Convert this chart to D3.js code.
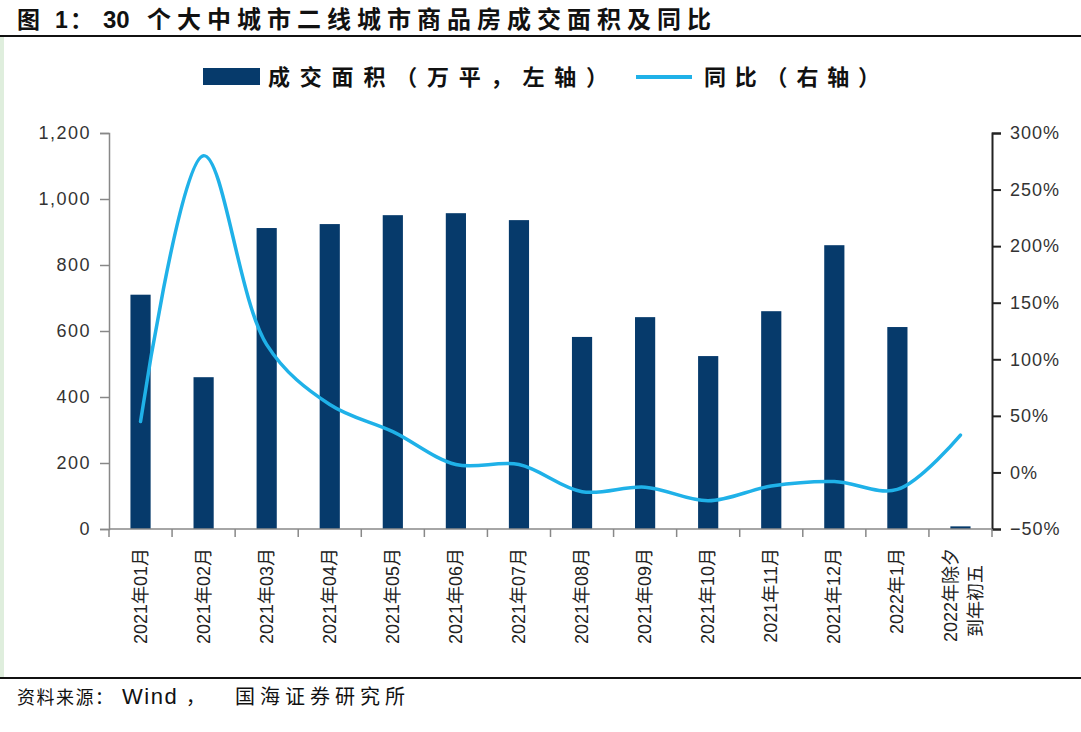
<!DOCTYPE html>
<html>
<head>
<meta charset="utf-8">
<script src="https://cdn.jsdelivr.net/npm/d3@7"></script>
<style>
  body { margin: 0; background: #fff; }
  text { font-family: "Liberation Sans", "Noto Sans CJK SC", sans-serif; }
</style>
</head>
<body>
<script>
var width = 1081,
  height = 732;

// data
var categories = ["2021年01月", "2021年02月", "2021年03月", "2021年04月", "2021年05月", "2021年06月",
  "2021年07月", "2021年08月", "2021年09月", "2021年10月", "2021年11月", "2021年12月",
  "2022年1月", "2022年除夕|到年初五"];
var area = [710, 460, 912, 924, 951, 957, 936, 582, 642, 524, 660, 860, 612, 8];
var yoy = [0.45, 2.80, 1.13, 0.60, 0.36, 0.07, 0.07, -0.17, -0.13, -0.25, -0.12, -0.08, -0.15, 0.33];
var leftTicks = [0, 200, 400, 600, 800, 1000, 1200];
var rightTicks = [-0.5, 0, 0.5, 1, 1.5, 2, 2.5, 3];

var barColor = "#063a6b",
  lineColor = "#1fb1e8";

var svg = d3.select("body").append("svg")
  .attr("width", width)
  .attr("height", height);

// left pale strip + rules
svg.append("rect").attr("x", 0).attr("y", 37).attr("width", 4).attr("height", 641).attr("fill", "#dfeedd");
svg.append("line").attr("x1", 0).attr("x2", width).attr("y1", 36).attr("y2", 36)
  .attr("stroke", "#111").attr("stroke-width", 2);
svg.append("line").attr("x1", 0).attr("x2", width).attr("y1", 678).attr("y2", 678)
  .attr("stroke", "#111").attr("stroke-width", 2);

// title
var title = svg.append("text")
  .attr("y", 28)
  .style("font-weight", "bold")
  .style("fill", "#111");
title.append("tspan").attr("x", 17).style("font-family", "'Noto Sans CJK SC'").style("font-size", "23px").text("图");
title.append("tspan").attr("x", 55).style("font-size", "23px").text("1");
title.append("tspan").attr("x", 70).style("font-family", "'Noto Sans CJK SC'").style("font-size", "23px").text("：");
title.append("tspan").attr("x", 103).style("font-size", "24px").text("30");
title.append("tspan").attr("x", 147).style("font-family", "'Noto Sans CJK SC'").style("font-size", "24px")
  .style("letter-spacing", "6px").text("个大中城市二线城市商品房成交面积及同比");

// footer
var foot = svg.append("text")
  .attr("y", 704)
  .style("fill", "#111");
foot.append("tspan").attr("x", 17).style("font-family", "'Noto Sans CJK SC'").style("font-size", "18px")
  .style("letter-spacing", "1.5px").text("资料来源：");
foot.append("tspan").attr("x", 122).style("font-size", "22px").style("letter-spacing", "1.5px").text("Wind");
foot.append("tspan").attr("x", 186).style("font-family", "'Noto Sans CJK SC'").style("font-size", "19px").text("，");
foot.append("tspan").attr("x", 235).style("font-family", "'Noto Sans CJK SC'").style("font-size", "20px")
  .style("letter-spacing", "5px").text("国海证券研究所");

// scales
var x = d3.scaleBand().domain(categories).range([109, 992]);
var yL = d3.scaleLinear().domain([0, 1200]).range([529, 133]);
var yR = d3.scaleLinear().domain([-0.5, 3]).range([529, 133]);
var bw = x.bandwidth() * 0.32;

// bars
svg.append("g").selectAll("rect")
  .data(area)
  .enter().append("rect")
  .attr("x", function (d, i) { return x(categories[i]) + x.bandwidth() / 2 - bw / 2; })
  .attr("y", function (d) { return yL(d); })
  .attr("width", bw)
  .attr("height", function (d) { return yL(0) - yL(d); })
  .attr("fill", barColor);

// line
var line = d3.line()
  .x(function (d, i) { return x(categories[i]) + x.bandwidth() / 2; })
  .y(function (d) { return yR(d); })
  .curve(d3.curveCatmullRom.alpha(0.5));
svg.append("path")
  .datum(yoy)
  .attr("d", line)
  .attr("fill", "none")
  .attr("stroke", lineColor)
  .attr("stroke-width", 3.5)
  .attr("stroke-linecap", "round");

// left axis
var gl = svg.append("g").attr("transform", "translate(109,0)")
  .call(d3.axisLeft(yL).tickValues(leftTicks).tickSize(9).tickPadding(9).tickFormat(d3.format(",")));
gl.select(".domain").attr("stroke", "#888").attr("stroke-width", 1.5);
gl.selectAll(".tick line").attr("stroke", "#888").attr("stroke-width", 1.5);
gl.selectAll("text").style("font-size", "18px").style("fill", "#333").style("letter-spacing", "1.5px");

// right axis
var gr = svg.append("g").attr("transform", "translate(992,0)")
  .call(d3.axisRight(yR).tickValues(rightTicks).tickSize(9).tickPadding(9).tickFormat(d3.format(".0%")));
gr.select(".domain").attr("stroke", "#222").attr("stroke-width", 2);
gr.selectAll(".tick line").attr("stroke", "#222").attr("stroke-width", 2);
gr.selectAll("text").style("font-size", "18px").style("fill", "#333").style("letter-spacing", "1px");

// bottom axis
var gb = svg.append("g");
gb.append("line").attr("x1", x.range()[0]).attr("x2", x.range()[1])
  .attr("y1", 529).attr("y2", 529).attr("stroke", "#888").attr("stroke-width", 1.5);
gb.selectAll(".bt")
  .data(categories.concat(["end"]))
  .enter().append("line")
  .attr("x1", function (d) { return d === "end" ? x.range()[1] : x(d); })
  .attr("x2", function (d) { return d === "end" ? x.range()[1] : x(d); })
  .attr("y1", 529).attr("y2", 537)
  .attr("stroke", "#888").attr("stroke-width", 1.5);

categories.forEach(function (c) {
  var parts = c.split("|");
  var cx = x(c) + x.bandwidth() / 2;
  parts.forEach(function (p, j) {
    var off = parts.length > 1 ? (j === 0 ? -9 : 16) : 0;
    var top = j === 0 ? 548 : 565;
    gb.append("text")
      .attr("transform", "translate(" + (cx + off + 6) + "," + top + ") rotate(-90)")
      .attr("text-anchor", "end")
      .style("font-size", "18px")
      .style("fill", "#222")
      .text(p);
  });
});

// legend
var lg = svg.append("g");
lg.append("rect").attr("x", 203).attr("y", 68).attr("width", 57).attr("height", 17).attr("fill", barColor);
lg.append("text").attr("x", 268).attr("y", 85)
  .attr("textLength", 340).attr("lengthAdjust", "spacing")
  .style("font-family", "'Noto Sans CJK SC'").style("font-weight", "bold").style("font-size", "22px").style("fill", "#111")
  .text("成交面积（万平，左轴）");
lg.append("line").attr("x1", 636).attr("x2", 692).attr("y1", 77).attr("y2", 77)
  .attr("stroke", lineColor).attr("stroke-width", 4);
lg.append("text").attr("x", 704).attr("y", 85)
  .attr("textLength", 176).attr("lengthAdjust", "spacing")
  .style("font-family", "'Noto Sans CJK SC'").style("font-weight", "bold").style("font-size", "22px").style("fill", "#111")
  .text("同比（右轴）");
</script>
</body>
</html>
